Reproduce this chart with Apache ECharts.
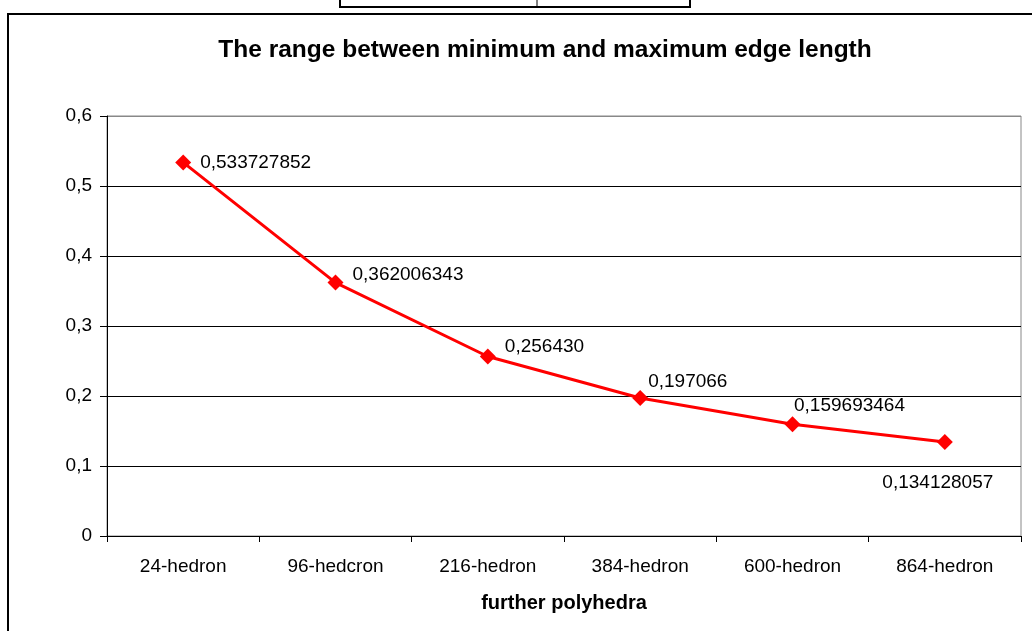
<!DOCTYPE html>
<html>
<head>
<meta charset="utf-8">
<script src="https://cdn.jsdelivr.net/npm/echarts@6/dist/echarts.min.js"></script>
<style>
  html, body { margin: 0; padding: 0; background: #fff; }
  #chart { width: 1032px; height: 631px; }
</style>
</head>
<body>
<div id="chart"></div>
<script>
// categories and values
const categories = ['24-hedron', '96-hedcron', '216-hedron', '384-hedron', '600-hedron', '864-hedron']
const values = [0.533727852, 0.362006343, 0.256430, 0.197066, 0.159693464, 0.134128057]
const valueLabels = ['0,533727852', '0,362006343', '0,256430', '0,197066', '0,159693464', '0,134128057']
const yTicks = [0, 0.1, 0.2, 0.3, 0.4, 0.5, 0.6]

// label placement per point (like the original spreadsheet chart)
const labelPos = [
  { position: 'right', offset: [4, 0] },
  { position: 'right', offset: [4, -8] },
  { position: 'right', offset: [4, -10] },
  { position: 'right', offset: [-5, -16] },
  { position: 'top', offset: [57, 4] },
  { position: 'bottom', offset: [-7, 18] }
]

const chart = echarts.init(document.getElementById('chart'))

const font = '"Liberation Sans", Arial, sans-serif'

const option = {
  animation: false,
  textStyle: { fontFamily: font },
  // --- outer frame and the table scrap at the top
  graphic: [
    {
      type: 'rect',
      shape: { x: 8, y: 14, width: 1040, height: 640 },
      style: { fill: 'none', stroke: '#000', lineWidth: 2 }
    },
    {
      type: 'rect',
      shape: { x: 340, y: -10, width: 350, height: 17 },
      style: { fill: 'none', stroke: '#000', lineWidth: 2 }
    },
    {
      type: 'line',
      shape: { x1: 537, y1: 0, x2: 537, y2: 7 },
      style: { stroke: '#000', lineWidth: 1 }
    }
  ],
  title: {
    text: 'The range between minimum and maximum edge length',
    left: 540,
    top: 33,
    textAlign: 'center',
    textStyle: {
      fontFamily: font,
      fontSize: 24.5,
      fontWeight: 'bold',
      color: '#000'
    }
  },
  grid: {
    left: 107,
    right: 11,
    top: 116,
    bottom: 95,
    show: true,
    borderColor: '#888',
    borderWidth: 1
  },
  xAxis: {
    type: 'category',
    data: categories,
    boundaryGap: true,
    name: 'further polyhedra',
    nameLocation: 'middle',
    nameGap: 57,
    nameTextStyle: {
      fontFamily: font,
      fontSize: 20,
      fontWeight: 'bold',
      color: '#000',
      verticalAlign: 'top'
    },
    axisLine: { lineStyle: { color: '#000', width: 1 } },
    axisTick: { show: true, length: 6, alignWithLabel: false, lineStyle: { color: '#000' } },
    axisLabel: { margin: 21, fontSize: 19, color: '#000', fontFamily: font },
    splitLine: { show: false }
  },
  yAxis: {
    type: 'value',
    min: 0,
    max: 0.6,
    interval: 0.1,
    axisLine: { show: true, lineStyle: { color: '#000', width: 1 } },
    axisTick: { show: true, length: 7, lineStyle: { color: '#000' } },
    axisLabel: {
      margin: 15,
      fontSize: 19,
      color: '#000',
      fontFamily: font,
      formatter: function (v) {
        const t = yTicks.find(function (y) { return Math.abs(y - v) < 1e-9 })
        return String(t !== undefined ? t : v).replace('.', ',')
      }
    },
    splitLine: {
      show: true,
      lineStyle: { color: ['#000', '#000', '#000', '#000', '#000', '#000', '#888'], width: 1 }
    }
  },
  series: [
    {
      type: 'line',
      data: values.map(function (v, i) {
        return {
          value: v,
          label: {
            show: true,
            position: labelPos[i].position,
            offset: labelPos[i].offset,
            formatter: valueLabels[i]
          }
        }
      }),
      symbol: 'diamond',
      symbolSize: 16,
      lineStyle: { color: '#ff0000', width: 3 },
      itemStyle: { color: '#ff0000' },
      label: {
        fontSize: 19,
        color: '#000',
        fontFamily: font
      }
    }
  ]
}

chart.setOption(option)
</script>
</body>
</html>
